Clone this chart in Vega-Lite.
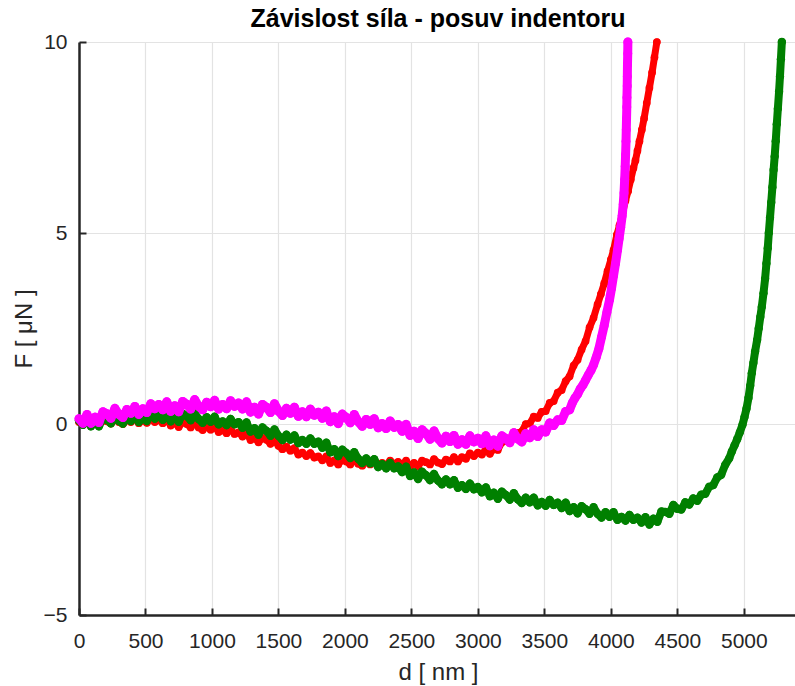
{
  "$schema": "https://vega.github.io/schema/vega-lite/v6.json",
  "autosize": "none",
  "width": 718,
  "height": 573,
  "padding": {"left": 79, "top": 42, "right": 0, "bottom": 71},
  "background": "white",
  "title": {"text": "Závislost síla - posuv indentoru", "font": "Liberation Sans", "fontSize": 25, "fontWeight": "bold", "color": "#000000", "anchor": "middle", "offset": -1},
  "config": {
    "view": {"stroke": null},
    "axis": {"labelFont": "Liberation Sans", "labelFontSize": 21, "labelColor": "#262626", "labelFlush": false, "titleFont": "Liberation Sans", "titleFontSize": 24, "titleFontWeight": "normal", "titleColor": "#262626", "domainColor": "#262626", "domainWidth": 2.5, "tickColor": "#262626", "tickWidth": 2, "tickSize": -7, "gridColor": "#e3e3e3", "gridWidth": 1.2}
  },
  "datasets": {
    "red": [
      {"d":0,"F":0.05},{"d":30,"F":-0.02},{"d":60,"F":0.10},{"d":90,"F":-0.05},{"d":120,"F":0.04},{"d":150,"F":-0.04},{"d":180,"F":0.10},{"d":210,"F":0.07},{"d":240,"F":0.01},{"d":270,"F":0.14},{"d":300,"F":0.05},{"d":330,"F":0.0},{"d":360,"F":0.11},{"d":390,"F":0.05},{"d":420,"F":0.15},{"d":450,"F":0.02},{"d":480,"F":0.10},{"d":510,"F":0.03},{"d":540,"F":0.15},{"d":570,"F":0.05},{"d":600,"F":0.11},{"d":630,"F":0.02},{"d":660,"F":0.12},{"d":690,"F":-0.04},{"d":720,"F":0.03},{"d":750,"F":-0.08},{"d":780,"F":0.05},{"d":810,"F":0.0},{"d":840,"F":-0.09},{"d":870,"F":0.03},{"d":900,"F":-0.09},{"d":930,"F":-0.16},{"d":960,"F":-0.06},{"d":990,"F":-0.15},{"d":1020,"F":-0.06},{"d":1050,"F":-0.21},{"d":1080,"F":-0.16},{"d":1110,"F":-0.24},{"d":1140,"F":-0.14},{"d":1170,"F":-0.26},{"d":1200,"F":-0.22},{"d":1230,"F":-0.33},{"d":1260,"F":-0.24},{"d":1290,"F":-0.42},{"d":1320,"F":-0.36},{"d":1350,"F":-0.48},{"d":1380,"F":-0.36},{"d":1410,"F":-0.41},{"d":1440,"F":-0.52},{"d":1470,"F":-0.43},{"d":1500,"F":-0.57},{"d":1530,"F":-0.66},{"d":1560,"F":-0.59},{"d":1590,"F":-0.70},{"d":1620,"F":-0.63},{"d":1650,"F":-0.80},{"d":1680,"F":-0.75},{"d":1710,"F":-0.84},{"d":1740,"F":-0.76},{"d":1770,"F":-0.88},{"d":1800,"F":-0.85},{"d":1830,"F":-0.95},{"d":1860,"F":-0.85},{"d":1890,"F":-1.02},{"d":1920,"F":-0.95},{"d":1950,"F":-1.06},{"d":1980,"F":-0.93},{"d":2010,"F":-0.98},{"d":2040,"F":-1.06},{"d":2070,"F":-0.93},{"d":2100,"F":-1.04},{"d":2130,"F":-1.09},{"d":2160,"F":-0.99},{"d":2190,"F":-1.06},{"d":2220,"F":-0.96},{"d":2250,"F":-1.09},{"d":2280,"F":-1.02},{"d":2310,"F":-1.08},{"d":2340,"F":-0.96},{"d":2370,"F":-1.05},{"d":2400,"F":-0.99},{"d":2430,"F":-1.07},{"d":2460,"F":-0.96},{"d":2490,"F":-1.11},{"d":2520,"F":-1.02},{"d":2550,"F":-1.11},{"d":2580,"F":-0.96},{"d":2610,"F":-1.00},{"d":2640,"F":-1.06},{"d":2670,"F":-0.92},{"d":2700,"F":-1.01},{"d":2730,"F":-1.05},{"d":2760,"F":-0.93},{"d":2790,"F":-0.98},{"d":2820,"F":-0.87},{"d":2850,"F":-0.98},{"d":2880,"F":-0.87},{"d":2910,"F":-0.91},{"d":2940,"F":-0.77},{"d":2970,"F":-0.84},{"d":3000,"F":-0.75},{"d":3030,"F":-0.80},{"d":3060,"F":-0.66},{"d":3090,"F":-0.78},{"d":3120,"F":-0.65},{"d":3150,"F":-0.68},{"d":3180,"F":-0.48},{"d":3210,"F":-0.45},{"d":3240,"F":-0.44},{"d":3270,"F":-0.22},{"d":3300,"F":-0.24},{"d":3330,"F":-0.20},{"d":3360,"F":0.0},{"d":3390,"F":0.01},{"d":3420,"F":0.19},{"d":3450,"F":0.16},{"d":3480,"F":0.32},{"d":3510,"F":0.34},{"d":3540,"F":0.55},{"d":3570,"F":0.60},{"d":3600,"F":0.82},{"d":3630,"F":0.89},{"d":3660,"F":1.12},{"d":3690,"F":1.25},{"d":3720,"F":1.53},{"d":3750,"F":1.68},{"d":3780,"F":1.95},{"d":3810,"F":2.17},{"d":3840,"F":2.53},{"d":3870,"F":2.78},{"d":3900,"F":3.13},{"d":3925,"F":3.4},{"d":3950,"F":3.68},{"d":3975,"F":4.0},{"d":4000,"F":4.3},{"d":4020,"F":4.55},{"d":4045,"F":4.95},{"d":4065,"F":5.2},{"d":4090,"F":5.55},{"d":4110,"F":5.85},{"d":4130,"F":6.1},{"d":4150,"F":6.4},{"d":4170,"F":6.7},{"d":4185,"F":6.9},{"d":4200,"F":7.15},{"d":4215,"F":7.4},{"d":4233,"F":7.7},{"d":4250,"F":8.0},{"d":4270,"F":8.4},{"d":4290,"F":8.8},{"d":4310,"F":9.2},{"d":4328,"F":9.6},{"d":4346,"F":10.0}
    ],
    "green": [
      {"d":0,"F":0.09},{"d":30,"F":-0.02},{"d":60,"F":0.14},{"d":90,"F":-0.06},{"d":120,"F":0.07},{"d":150,"F":-0.06},{"d":180,"F":0.16},{"d":210,"F":0.11},{"d":240,"F":0.02},{"d":270,"F":0.21},{"d":300,"F":0.08},{"d":330,"F":0.01},{"d":360,"F":0.17},{"d":390,"F":0.08},{"d":420,"F":0.22},{"d":450,"F":0.05},{"d":480,"F":0.16},{"d":510,"F":0.08},{"d":540,"F":0.26},{"d":570,"F":0.14},{"d":600,"F":0.23},{"d":630,"F":0.11},{"d":660,"F":0.28},{"d":690,"F":0.07},{"d":720,"F":0.19},{"d":750,"F":0.06},{"d":780,"F":0.27},{"d":810,"F":0.21},{"d":840,"F":0.10},{"d":870,"F":0.28},{"d":900,"F":0.13},{"d":930,"F":0.03},{"d":960,"F":0.18},{"d":990,"F":0.06},{"d":1020,"F":0.19},{"d":1050,"F":-0.01},{"d":1080,"F":0.07},{"d":1110,"F":-0.03},{"d":1140,"F":0.13},{"d":1170,"F":-0.01},{"d":1200,"F":0.05},{"d":1230,"F":-0.10},{"d":1260,"F":0.04},{"d":1290,"F":-0.20},{"d":1320,"F":-0.11},{"d":1350,"F":-0.28},{"d":1380,"F":-0.09},{"d":1410,"F":-0.18},{"d":1440,"F":-0.31},{"d":1470,"F":-0.14},{"d":1500,"F":-0.31},{"d":1530,"F":-0.42},{"d":1560,"F":-0.28},{"d":1590,"F":-0.41},{"d":1620,"F":-0.30},{"d":1650,"F":-0.50},{"d":1680,"F":-0.42},{"d":1710,"F":-0.52},{"d":1740,"F":-0.38},{"d":1770,"F":-0.52},{"d":1800,"F":-0.46},{"d":1830,"F":-0.62},{"d":1860,"F":-0.49},{"d":1890,"F":-0.74},{"d":1920,"F":-0.66},{"d":1950,"F":-0.84},{"d":1980,"F":-0.67},{"d":2010,"F":-0.76},{"d":2040,"F":-0.89},{"d":2070,"F":-0.74},{"d":2100,"F":-0.91},{"d":2130,"F":-1.02},{"d":2160,"F":-0.90},{"d":2190,"F":-1.03},{"d":2220,"F":-0.92},{"d":2250,"F":-1.13},{"d":2280,"F":-1.05},{"d":2310,"F":-1.16},{"d":2340,"F":-1.02},{"d":2370,"F":-1.16},{"d":2400,"F":-1.11},{"d":2430,"F":-1.26},{"d":2460,"F":-1.12},{"d":2490,"F":-1.36},{"d":2520,"F":-1.27},{"d":2550,"F":-1.44},{"d":2580,"F":-1.25},{"d":2610,"F":-1.34},{"d":2640,"F":-1.47},{"d":2670,"F":-1.31},{"d":2700,"F":-1.48},{"d":2730,"F":-1.58},{"d":2760,"F":-1.45},{"d":2790,"F":-1.58},{"d":2820,"F":-1.47},{"d":2850,"F":-1.67},{"d":2880,"F":-1.60},{"d":2910,"F":-1.70},{"d":2940,"F":-1.56},{"d":2970,"F":-1.71},{"d":3000,"F":-1.65},{"d":3030,"F":-1.79},{"d":3060,"F":-1.66},{"d":3090,"F":-1.89},{"d":3120,"F":-1.80},{"d":3150,"F":-1.96},{"d":3180,"F":-1.77},{"d":3210,"F":-1.86},{"d":3240,"F":-1.98},{"d":3270,"F":-1.81},{"d":3300,"F":-1.97},{"d":3330,"F":-2.07},{"d":3360,"F":-1.93},{"d":3390,"F":-2.05},{"d":3420,"F":-1.93},{"d":3450,"F":-2.13},{"d":3480,"F":-2.04},{"d":3510,"F":-2.14},{"d":3540,"F":-1.99},{"d":3570,"F":-2.12},{"d":3600,"F":-2.06},{"d":3630,"F":-2.20},{"d":3660,"F":-2.06},{"d":3690,"F":-2.28},{"d":3720,"F":-2.18},{"d":3750,"F":-2.34},{"d":3780,"F":-2.15},{"d":3810,"F":-2.23},{"d":3840,"F":-2.35},{"d":3870,"F":-2.18},{"d":3900,"F":-2.35},{"d":3930,"F":-2.45},{"d":3960,"F":-2.31},{"d":3990,"F":-2.43},{"d":4020,"F":-2.31},{"d":4050,"F":-2.51},{"d":4080,"F":-2.43},{"d":4110,"F":-2.53},{"d":4140,"F":-2.38},{"d":4170,"F":-2.51},{"d":4200,"F":-2.45},{"d":4230,"F":-2.58},{"d":4260,"F":-2.44},{"d":4290,"F":-2.63},{"d":4320,"F":-2.48},{"d":4350,"F":-2.56},{"d":4380,"F":-2.29},{"d":4410,"F":-2.30},{"d":4440,"F":-2.35},{"d":4470,"F":-2.12},{"d":4500,"F":-2.22},{"d":4530,"F":-2.24},{"d":4560,"F":-2.05},{"d":4590,"F":-2.11},{"d":4620,"F":-1.95},{"d":4650,"F":-2.01},{"d":4680,"F":-1.85},{"d":4710,"F":-1.83},{"d":4740,"F":-1.64},{"d":4770,"F":-1.60},{"d":4800,"F":-1.40},{"d":4830,"F":-1.33},{"d":4860,"F":-1.07},{"d":4890,"F":-0.90},{"d":4910,"F":-0.72},{"d":4930,"F":-0.56},{"d":4950,"F":-0.40},{"d":4970,"F":-0.22},{"d":4990,"F":-0.02},{"d":5005,"F":0.18},{"d":5020,"F":0.40},{"d":5035,"F":0.68},{"d":5048,"F":1.0},{"d":5060,"F":1.33},{"d":5072,"F":1.6},{"d":5085,"F":1.9},{"d":5100,"F":2.2},{"d":5112,"F":2.5},{"d":5124,"F":2.8},{"d":5135,"F":3.06},{"d":5148,"F":3.42},{"d":5160,"F":3.8},{"d":5170,"F":4.2},{"d":5180,"F":4.6},{"d":5188,"F":5.0},{"d":5197,"F":5.4},{"d":5206,"F":5.8},{"d":5215,"F":6.2},{"d":5224,"F":6.65},{"d":5232,"F":7.0},{"d":5240,"F":7.4},{"d":5248,"F":7.85},{"d":5256,"F":8.25},{"d":5265,"F":8.7},{"d":5272,"F":9.1},{"d":5279,"F":9.55},{"d":5286,"F":10.0}
    ],
    "magenta": [
      {"d":0,"F":0.14},{"d":30,"F":0.02},{"d":60,"F":0.25},{"d":90,"F":0.02},{"d":120,"F":0.18},{"d":150,"F":0.04},{"d":180,"F":0.32},{"d":210,"F":0.27},{"d":240,"F":0.15},{"d":270,"F":0.41},{"d":300,"F":0.25},{"d":330,"F":0.17},{"d":360,"F":0.38},{"d":390,"F":0.28},{"d":420,"F":0.46},{"d":450,"F":0.25},{"d":480,"F":0.40},{"d":510,"F":0.30},{"d":540,"F":0.53},{"d":570,"F":0.40},{"d":600,"F":0.51},{"d":630,"F":0.37},{"d":660,"F":0.58},{"d":690,"F":0.33},{"d":720,"F":0.48},{"d":750,"F":0.32},{"d":780,"F":0.59},{"d":810,"F":0.52},{"d":840,"F":0.39},{"d":870,"F":0.64},{"d":900,"F":0.46},{"d":930,"F":0.37},{"d":960,"F":0.57},{"d":990,"F":0.45},{"d":1020,"F":0.62},{"d":1050,"F":0.39},{"d":1080,"F":0.51},{"d":1110,"F":0.40},{"d":1140,"F":0.61},{"d":1170,"F":0.46},{"d":1200,"F":0.55},{"d":1230,"F":0.39},{"d":1260,"F":0.58},{"d":1290,"F":0.31},{"d":1320,"F":0.44},{"d":1350,"F":0.26},{"d":1380,"F":0.51},{"d":1410,"F":0.44},{"d":1440,"F":0.30},{"d":1470,"F":0.53},{"d":1500,"F":0.34},{"d":1530,"F":0.22},{"d":1560,"F":0.41},{"d":1590,"F":0.28},{"d":1620,"F":0.44},{"d":1650,"F":0.20},{"d":1680,"F":0.32},{"d":1710,"F":0.19},{"d":1740,"F":0.39},{"d":1770,"F":0.23},{"d":1800,"F":0.31},{"d":1830,"F":0.15},{"d":1860,"F":0.34},{"d":1890,"F":0.06},{"d":1920,"F":0.19},{"d":1950,"F":0.01},{"d":1980,"F":0.26},{"d":2010,"F":0.17},{"d":2040,"F":0.03},{"d":2070,"F":0.25},{"d":2100,"F":0.06},{"d":2130,"F":-0.06},{"d":2160,"F":0.12},{"d":2190,"F":-0.01},{"d":2220,"F":0.14},{"d":2250,"F":-0.10},{"d":2280,"F":0.01},{"d":2310,"F":-0.12},{"d":2340,"F":0.08},{"d":2370,"F":-0.09},{"d":2400,"F":-0.01},{"d":2430,"F":-0.19},{"d":2460,"F":-0.01},{"d":2490,"F":-0.30},{"d":2520,"F":-0.19},{"d":2550,"F":-0.38},{"d":2580,"F":-0.15},{"d":2610,"F":-0.25},{"d":2640,"F":-0.40},{"d":2670,"F":-0.18},{"d":2700,"F":-0.38},{"d":2730,"F":-0.50},{"d":2760,"F":-0.32},{"d":2790,"F":-0.46},{"d":2820,"F":-0.30},{"d":2850,"F":-0.53},{"d":2880,"F":-0.41},{"d":2910,"F":-0.53},{"d":2940,"F":-0.31},{"d":2970,"F":-0.47},{"d":3000,"F":-0.37},{"d":3030,"F":-0.52},{"d":3060,"F":-0.31},{"d":3090,"F":-0.57},{"d":3120,"F":-0.42},{"d":3150,"F":-0.58},{"d":3180,"F":-0.31},{"d":3210,"F":-0.38},{"d":3240,"F":-0.49},{"d":3270,"F":-0.23},{"d":3300,"F":-0.39},{"d":3330,"F":-0.47},{"d":3360,"F":-0.25},{"d":3390,"F":-0.36},{"d":3420,"F":-0.15},{"d":3450,"F":-0.33},{"d":3480,"F":-0.15},{"d":3510,"F":-0.21},{"d":3540,"F":0.03},{"d":3570,"F":-0.04},{"d":3600,"F":0.11},{"d":3630,"F":0.09},{"d":3660,"F":0.33},{"d":3690,"F":0.37},{"d":3710,"F":0.55},{"d":3730,"F":0.68},{"d":3750,"F":0.78},{"d":3770,"F":0.92},{"d":3790,"F":1.02},{"d":3810,"F":1.15},{"d":3830,"F":1.28},{"d":3850,"F":1.40},{"d":3870,"F":1.55},{"d":3890,"F":1.75},{"d":3910,"F":1.97},{"d":3930,"F":2.28},{"d":3950,"F":2.58},{"d":3970,"F":2.92},{"d":3990,"F":3.25},{"d":4005,"F":3.55},{"d":4020,"F":3.88},{"d":4035,"F":4.2},{"d":4050,"F":4.55},{"d":4062,"F":4.85},{"d":4074,"F":5.15},{"d":4085,"F":5.45},{"d":4093,"F":5.75},{"d":4099,"F":6.05},{"d":4104,"F":6.4},{"d":4108,"F":6.75},{"d":4111,"F":7.05},{"d":4114,"F":7.4},{"d":4116,"F":7.7},{"d":4118,"F":8.0},{"d":4120,"F":8.3},{"d":4121,"F":8.55},{"d":4123,"F":8.85},{"d":4124,"F":9.1},{"d":4125,"F":9.4},{"d":4127,"F":9.7},{"d":4128,"F":10.0}
    ]
  },
  "encoding": {
    "x": {"field": "d", "type": "quantitative", "scale": {"domain": [0, 5400], "nice": false, "zero": false}, "axis": {"title": "d [ nm ]", "format": "d", "values": [0,500,1000,1500,2000,2500,3000,3500,4000,4500,5000], "grid": true, "labelPadding": 22, "titlePadding": 9}},
    "y": {"field": "F", "type": "quantitative", "scale": {"domain": [-5, 10], "nice": false, "zero": false}, "axis": {"title": "F [ μN ]", "format": "d", "values": [-5, 0, 5, 10], "grid": true, "labelPadding": 19, "titlePadding": 7}}
  },
  "layer": [
    {"data": {"name": "red"}, "mark": {"type": "line", "color": "#ff0000", "strokeWidth": 7, "strokeJoin": "round", "strokeCap": "round"}},
    {"data": {"name": "red"}, "mark": {"type": "point", "shape": "circle", "filled": true, "size": 60, "color": "#ff0000", "opacity": 1}},
    {"data": {"name": "green"}, "mark": {"type": "line", "color": "#008000", "strokeWidth": 8, "strokeJoin": "round", "strokeCap": "round"}},
    {"data": {"name": "green"}, "mark": {"type": "point", "shape": "circle", "filled": true, "size": 70, "color": "#008000", "opacity": 1}},
    {"data": {"name": "magenta"}, "mark": {"type": "line", "color": "#ff00ff", "strokeWidth": 9, "strokeJoin": "round", "strokeCap": "round"}},
    {"data": {"name": "magenta"}, "mark": {"type": "point", "shape": "circle", "filled": true, "size": 80, "color": "#ff00ff", "opacity": 1}}
  ]
}
